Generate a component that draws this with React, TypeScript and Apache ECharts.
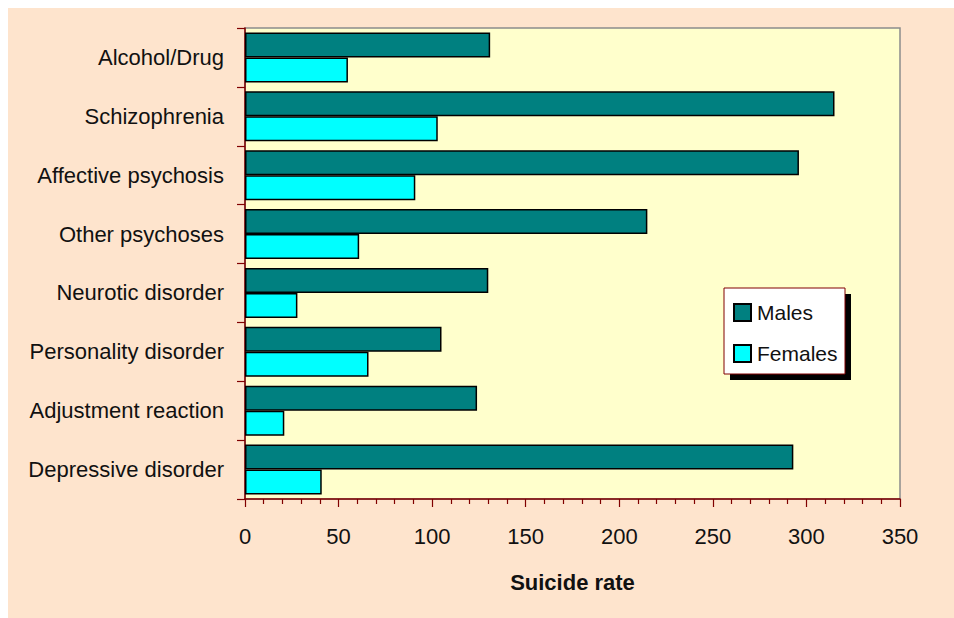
import React, { useEffect, useRef } from "react";
import * as echarts from "echarts";

// Diagnosis groups, top to bottom
const categories = [
  "Alcohol/Drug",
  "Schizophrenia",
  "Affective psychosis",
  "Other psychoses",
  "Neurotic disorder",
  "Personality disorder",
  "Adjustment reaction",
  "Depressive disorder",
];

// Suicide rate per group
const males = [131, 315, 296, 215, 130, 105, 124, 293];
const females = [55, 103, 91, 61, 28, 66, 21, 41];

const xTicks = [0, 50, 100, 150, 200, 250, 300, 350];

const FONT = "Arial, 'Liberation Sans', sans-serif";
const AXIS_RED = "#800000";
const FS = 22;

export default function App() {
  const ref = useRef<HTMLDivElement>(null);

  useEffect(() => {
    if (!ref.current) return;
    const chart = echarts.init(ref.current, undefined, { renderer: "svg" });

    const option: echarts.EChartsCoreOption = {
      animation: false,
      backgroundColor: "#FEE4CD",
      textStyle: { fontFamily: FONT },
      grid: {
        left: 237,
        top: 20,
        width: 655,
        height: 471,
        outerBoundsMode: "none",
        show: true,
        backgroundColor: "#FFFFCC",
        borderColor: "#8c8c8c",
        borderWidth: 1.5,
      },
      xAxis: {
        type: "value",
        min: xTicks[0],
        max: xTicks[xTicks.length - 1],
        interval: 50,
        name: "Suicide rate",
        nameLocation: "middle",
        nameGap: 72,
        nameTextStyle: {
          fontFamily: FONT,
          fontSize: FS,
          fontWeight: "bold",
          color: "#111",
        },
        axisLine: { show: true, lineStyle: { color: AXIS_RED, width: 1.5 } },
        axisTick: { show: true, length: 8, lineStyle: { color: AXIS_RED, width: 1.2 } },
        minorTick: { show: true, splitNumber: 5, length: 5, lineStyle: { color: AXIS_RED, width: 1.2 } },
        splitLine: { show: false },
        axisLabel: { fontFamily: FONT, fontSize: FS, color: "#111", margin: 26 },
      },
      yAxis: {
        type: "category",
        data: categories,
        inverse: true,
        axisLine: { show: true, lineStyle: { color: AXIS_RED, width: 1.5 } },
        axisTick: { show: true, length: 8, lineStyle: { color: AXIS_RED, width: 1.2 } },
        axisLabel: { fontFamily: FONT, fontSize: FS, color: "#111", margin: 21 },
        splitLine: { show: false },
      },
      legend: {
        orient: "vertical",
        left: 725,
        top: 294,
        padding: 0,
        itemWidth: 17,
        itemHeight: 17,
        itemGap: 20,
        icon: "rect",
        z: 10,
        textStyle: { fontFamily: FONT, fontSize: FS - 1, color: "#111", padding: [0, 0, 0, 1] },
        data: ["Males", "Females"],
      },
      graphic: [
        {
          type: "rect",
          z: 5,
          shape: { x: 722, y: 286, width: 121, height: 86 },
          style: { fill: "#000" },
        },
        {
          type: "rect",
          z: 6,
          shape: { x: 716, y: 280, width: 121, height: 86 },
          style: { fill: "#fff", stroke: AXIS_RED, lineWidth: 1 },
        },
      ],
      series: [
        {
          name: "Males",
          type: "bar",
          data: males,
          barGap: "0%",
          barCategoryGap: "15%",
          itemStyle: { color: "#008080", borderColor: "#000", borderWidth: 1.5 },
        },
        {
          name: "Females",
          type: "bar",
          data: females,
          barGap: "0%",
          barCategoryGap: "15%",
          itemStyle: { color: "#00FFFF", borderColor: "#000", borderWidth: 1.5 },
        },
      ],
    };

    chart.setOption(option);
    return () => chart.dispose();
  }, []);

  return (
    <div
      ref={ref}
      style={{
        position: "fixed",
        left: 8,
        top: 8,
        right: 0,
        bottom: 0,
        background: "#FEE4CD",
      }}
    />
  );
}
